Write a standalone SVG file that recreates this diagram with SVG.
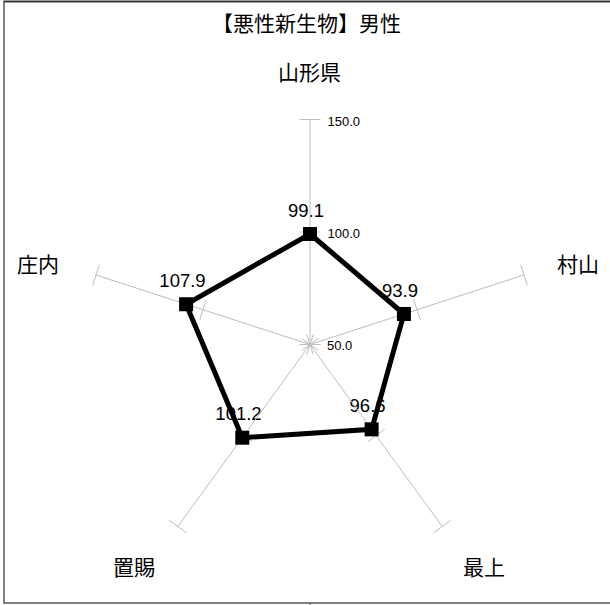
<svg xmlns="http://www.w3.org/2000/svg" width="610" height="605" viewBox="0 0 610 605">
<style>
.cjk{font-family:"Noto Sans CJK JP","Noto Sans CJK SC",sans-serif;font-size:21px;fill:#000;text-anchor:middle}
.val{font-family:"Liberation Sans",Arial,sans-serif;font-size:18.5px;fill:#000;text-anchor:middle}
.tick{font-family:"Liberation Sans",Arial,sans-serif;font-size:13px;fill:#000}
.axis line{stroke:#bdbdbd;stroke-width:1;fill:none}
.mk{fill:#000}
</style>
<rect x="0" y="0" width="610" height="605" fill="#fff"/>
<rect x="4" y="1.5" width="620" height="601.5" fill="none" stroke="#808080" stroke-width="2"/>
<line x1="4" y1="1.5" x2="610" y2="1.5" stroke="#333" stroke-width="1.5"/>
<line x1="310" y1="603" x2="310" y2="605" stroke="#555" stroke-width="1"/>

<text class="cjk" x="306.5" y="31">【悪性新生物】男性</text>

<g id="value-labels">
<text class="val" x="306" y="216.5">99.1</text>
<text class="val" x="400" y="296.5">93.9</text>
<text class="val" x="367.6" y="411.5">96.6</text>
<text class="val" x="238.5" y="420">101.2</text>
<text class="val" x="182.5" y="286.7">107.9</text>
</g>

<g id="axes" class="axis">
<line x1="310" y1="344.5" x2="310" y2="119.5"/>
<line x1="310" y1="344.5" x2="523.99" y2="274.97"/>
<line x1="310" y1="344.5" x2="442.25" y2="526.53"/>
<line x1="310" y1="344.5" x2="177.75" y2="526.53"/>
<line x1="310" y1="344.5" x2="96.01" y2="274.97"/>
<line x1="299.5" y1="119.5" x2="320.5" y2="119.5"/>
<line x1="299.5" y1="232" x2="320.5" y2="232"/>
<line x1="299.5" y1="344.5" x2="320.5" y2="344.5"/>
<line x1="520.75" y1="264.98" x2="527.24" y2="284.96"/>
<line x1="413.75" y1="299.75" x2="420.24" y2="319.72"/>
<line x1="306.76" y1="334.51" x2="313.24" y2="354.49"/>
<line x1="450.74" y1="520.36" x2="433.76" y2="532.70"/>
<line x1="384.62" y1="429.35" x2="367.63" y2="441.69"/>
<line x1="318.49" y1="338.33" x2="301.51" y2="350.67"/>
<line x1="169.26" y1="520.36" x2="186.24" y2="532.70"/>
<line x1="235.38" y1="429.35" x2="252.37" y2="441.69"/>
<line x1="301.51" y1="338.33" x2="318.49" y2="350.67"/>
<line x1="99.25" y1="264.98" x2="92.76" y2="284.96"/>
<line x1="206.25" y1="299.75" x2="199.76" y2="319.72"/>
<line x1="313.24" y1="334.51" x2="306.76" y2="354.49"/>
</g>

<g id="scale-labels">
<text class="tick" x="327.5" y="125.5">150.0</text>
<text class="tick" x="327.5" y="238">100.0</text>
<text class="tick" x="327" y="350">50.0</text>
</g>

<g id="axis-labels">
<g id="node-yamagata"><text class="cjk" x="309.5" y="80">山形県</text></g>
<g id="node-murayama"><text class="cjk" x="578" y="271.5">村山</text></g>
<g id="node-mogami"><text class="cjk" x="484" y="574.5">最上</text></g>
<g id="node-okitama"><text class="cjk" x="134" y="574.5">置賜</text></g>
<g id="node-shonai"><text class="cjk" x="38" y="271.5">庄内</text></g>
</g>

<g id="connectors">
<polygon points="310,234 403.94,313.98 371.63,429.33 242.29,437.7 186.1,304.24" fill="none" stroke="#000" stroke-width="5" stroke-linejoin="miter"/>
</g>

<g id="markers">
<rect class="mk" x="303" y="227" width="14" height="14"/>
<rect class="mk" x="396.94" y="306.98" width="14" height="14"/>
<rect class="mk" x="364.63" y="422.33" width="14" height="14"/>
<rect class="mk" x="235.29" y="430.7" width="14" height="14"/>
<rect class="mk" x="179.1" y="297.24" width="14" height="14"/>
</g>
</svg>
